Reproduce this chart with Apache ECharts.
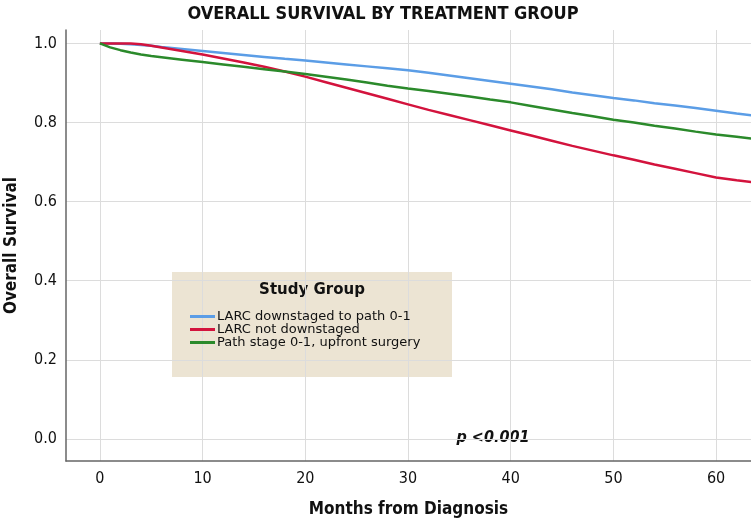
<!DOCTYPE html>
<html>
<head>
<meta charset="utf-8">
<script src="https://cdn.jsdelivr.net/npm/echarts@6/dist/echarts.min.js"></script>
<style>
html,body{margin:0;padding:0;background:#fff;}
#main{width:751px;height:522px;}
</style>
</head>
<body>
<div id="main"></div>
<script>
// months from diagnosis
var months = [0,1,2,3,4,5,6,8,10,12,14,16,18,20,22,24,26,28,30,32,34,36,38,40,42,44,46,48,50,52,54,56,58,60,62,63.5];
var larcDown = [1,1,0.999,0.998,0.996,0.994,0.991,0.986,0.981,0.976,0.971,0.966,0.961,0.957,0.952,0.947,0.942,0.937,0.932,0.926,0.919,0.912,0.905,0.898,0.891,0.884,0.876,0.869,0.862,0.856,0.849,0.843,0.837,0.830,0.823,0.818];
var larcNot = [1,1,1,1,0.998,0.994,0.990,0.981,0.972,0.962,0.952,0.941,0.929,0.916,0.902,0.888,0.874,0.860,0.846,0.832,0.819,0.806,0.793,0.780,0.767,0.754,0.741,0.729,0.717,0.706,0.694,0.683,0.672,0.661,0.654,0.649];
var upfront = [1,0.99,0.983,0.977,0.972,0.968,0.965,0.959,0.953,0.947,0.941,0.935,0.929,0.923,0.916,0.909,0.901,0.893,0.886,0.880,0.873,0.866,0.858,0.851,0.842,0.833,0.824,0.816,0.807,0.800,0.792,0.785,0.777,0.770,0.764,0.759];
var xTicks = [0,10,20,30,40,50,60];
var yTicks = [0,0.2,0.4,0.6,0.8,1.0];
var groupNames = ['LARC downstaged to path 0-1','LARC not downstaged','Path stage 0-1, upfront surgery'];

function pairs(vals){
    var out = [];
    for(var i=0;i<months.length;i++){
        out.push([months[i], vals[i]]);
    }
    return out;
}

var narrow = "'Liberation Sans Narrow','DejaVu Sans Condensed',sans-serif";

var chart = echarts.init(document.getElementById('main'));
chart.setOption({
    animation:false,
    title:{
        text:'OVERALL SURVIVAL BY TREATMENT GROUP',
        left:378, top:0, textAlign:'center',
        textStyle:{fontFamily:narrow,fontWeight:'bold',fontSize:18,color:'#111'}
    },
    grid:{left:66,right:0,top:30,bottom:61,outerBoundsMode:'none',containLabel:false},
    xAxis:{
        type:'value', min:-3.3, max:63.4,
        name:'Months from Diagnosis', nameLocation:'middle', nameGap:40,
        nameTextStyle:{fontFamily:narrow,fontWeight:'bold',fontSize:17,color:'#111'},
        axisLine:{onZero:false,lineStyle:{color:'#666',width:1.5}},
        axisTick:{show:false, customValues:xTicks},
        axisLabel:{customValues:xTicks,fontFamily:narrow,fontSize:16,color:'#111',margin:10},
        splitLine:{show:true,lineStyle:{color:'#dcdcdc'}}
    },
    yAxis:{
        type:'value', min:-0.056, max:1.034,
        name:'Overall Survival', nameLocation:'middle', nameGap:46,
        nameTextStyle:{fontFamily:narrow,fontWeight:'bold',fontSize:17,color:'#111'},
        axisLine:{show:true,onZero:false,lineStyle:{color:'#666',width:1.5}},
        axisTick:{show:false, customValues:yTicks},
        axisLabel:{customValues:yTicks,fontFamily:narrow,fontSize:16,color:'#111',margin:9,
            formatter:function(v){ return v.toFixed(1); }},
        splitLine:{show:true,lineStyle:{color:'#dcdcdc'}}
    },
    legend:{
        orient:'vertical', left:185, top:305,
        icon:'rect', itemWidth:25, itemHeight:3, itemGap:0,
        textStyle:{fontFamily:"'DejaVu Sans',sans-serif",fontSize:13,color:'#111',lineHeight:13,padding:[0,0,0,-3]},
        data:groupNames
    },
    graphic:[
        {type:'rect',shape:{x:172,y:272,width:280,height:105},style:{fill:'#ece4d3'},z:-1},
        {type:'text',x:312,y:290,style:{text:'Study Group',align:'center',verticalAlign:'middle',
            font:"bold 15px 'DejaVu Sans',sans-serif",fill:'#111'}},
        {type:'text',x:493,y:438,style:{text:'p <0.001',align:'center',verticalAlign:'middle',
            font:"italic bold 16px "+narrow,fill:'#111'}}
    ],
    series:[
        {name:groupNames[0],type:'line',data:pairs(larcDown),showSymbol:false,
            lineStyle:{width:2.5,color:'#5b9de6'},itemStyle:{color:'#5b9de6'}},
        {name:groupNames[1],type:'line',data:pairs(larcNot),showSymbol:false,
            lineStyle:{width:2.5,color:'#d3133d'},itemStyle:{color:'#d3133d'}},
        {name:groupNames[2],type:'line',data:pairs(upfront),showSymbol:false,
            lineStyle:{width:2.5,color:'#2b8a2b'},itemStyle:{color:'#2b8a2b'}}
    ]
});
</script>
</body>
</html>
